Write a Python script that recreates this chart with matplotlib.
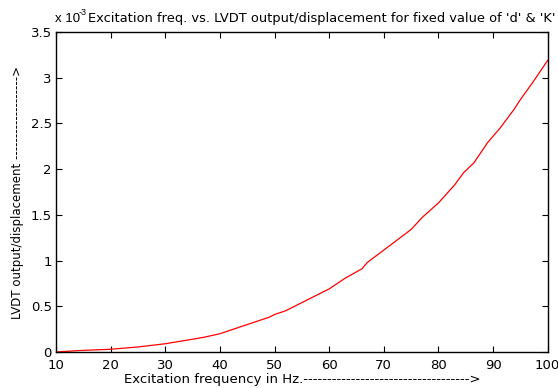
import numpy as np
import matplotlib.pyplot as plt

# ── data ─────────────────────────────────────────────────────
freq_hz = [10, 14, 18, 20, 25, 30, 37, 40, 43, 49, 50, 52, 55, 57, 60,
           63, 66, 67, 71, 75, 77, 80, 83, 84.6, 86.5, 89, 91.3, 93.8,
           95, 97.4, 100]
lvdt_out = [0.0, 0.015, 0.025, 0.03, 0.055, 0.09, 0.16, 0.2, 0.26, 0.38,
            0.41, 0.45, 0.54, 0.6, 0.69, 0.81, 0.91, 0.98, 1.16, 1.34,
            1.47, 1.63, 1.83, 1.96, 2.07, 2.29, 2.45, 2.65, 2.76, 2.96,
            3.19]  # x 1e-3

x_ticks = [10, 20, 30, 40, 50, 60, 70, 80, 90, 100]
y_ticks = [0, 0.5, 1, 1.5, 2, 2.5, 3, 3.5]
y_ticklabels = ["0", "0.5", "1", "1.5", "2", "2.5", "3", "3.5"]

plt.rcParams.update({
    "font.family": ["DejaVu Sans"],
    "font.size": 9.5,
})

fig = plt.figure(figsize=(5.58, 3.88), dpi=100)
ax = fig.add_axes([0.1004, 0.0928, 0.8811, 0.8247])

ax.plot(freq_hz, lvdt_out, color="red", linewidth=0.9)

ax.set_xlim(10, 100)
ax.set_ylim(0, 3.5)
ax.set_xticks(x_ticks)
ax.set_yticks(y_ticks)
ax.set_yticklabels(y_ticklabels)
ax.tick_params(direction="in", length=4, width=0.8, top=True, right=True,
               labelsize=9.5)
ax.tick_params(axis="x", pad=5)
ax.tick_params(axis="y", pad=3)
for sp in ax.spines.values():
    sp.set_linewidth(1.0)

ax.set_xlabel("Excitation frequency in Hz." + "-" * 35 + ">",
              fontsize=9.5, labelpad=1)
ax.set_ylabel("LVDT output/displacement " + "-" * 19 + ">",
              fontsize=8.5, labelpad=5)

# exponent label (MATLAB style) and title
fig.text(55 / 558, 1 - 22 / 388, "x 10", fontsize=9.5,
         family="Liberation Sans", ha="left", va="baseline")
fig.text(78.5 / 558, 1 - 15 / 388, "-3", fontsize=6.5,
         family="Liberation Sans", ha="left", va="baseline")
fig.text(555 / 558, 1 - 22 / 388,
         "Excitation freq. vs. LVDT output/displacement for fixed value of 'd' & 'K'",
         fontsize=9.35, ha="right", va="baseline")

plt.savefig("out.png", dpi=100)
